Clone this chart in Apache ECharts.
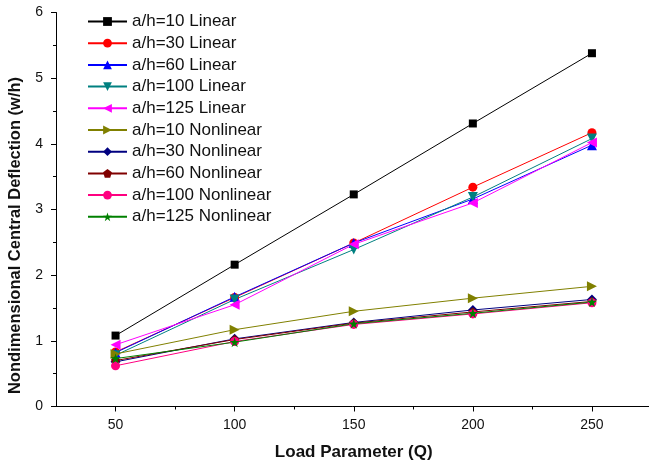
<!DOCTYPE html>
<html>
<head>
<meta charset="utf-8">
<script src="https://cdn.jsdelivr.net/npm/echarts@6/dist/echarts.min.js"></script>
<style>
  html, body { margin: 0; padding: 0; background: #fff; }
  #chart { width: 649px; height: 463px; }
</style>
</head>
<body>
<div id="chart"></div>
<script>
// load parameter Q
const loads = [50, 100, 150, 200, 250];

// w/h values
const lin10 = [1.08, 2.16, 3.23, 4.31, 5.38];
const lin30 = [0.83, 1.66, 2.49, 3.34, 4.17];
const lin60 = [0.82, 1.67, 2.49, 3.16, 3.98];
const lin100 = [0.78, 1.63, 2.39, 3.19, 4.08];
const lin125 = [0.94, 1.55, 2.47, 3.10, 4.02];
const non10 = [0.80, 1.17, 1.45, 1.65, 1.83];
const non30 = [0.68, 1.03, 1.28, 1.47, 1.63];
const non60 = [0.70, 1.02, 1.27, 1.44, 1.60];
const non100 = [0.62, 0.99, 1.25, 1.41, 1.58];
const non125 = [0.73, 0.98, 1.26, 1.42, 1.59];

const xMajor = [50, 100, 150, 200, 250];
const xMinor = [75, 125, 175, 225];

const FONT = '"Liberation Sans", Arial, sans-serif';

const shapes = {
  down: 'path://M0,0 L10,0 L5,10 Z',
  left: 'path://M10,0 L10,10 L0,5 Z',
  right: 'path://M0,0 L0,10 L10,5 Z',
  pentagon: 'path://M5,0 L10,3.8 L8.1,10 L1.9,10 L0,3.8 Z',
  star: 'path://M5,0 L6.2,3.6 L10,3.6 L6.9,5.9 L8.1,9.6 L5,7.3 L1.9,9.6 L3.1,5.9 L0,3.6 L3.8,3.6 Z'
};

const defs = [
  { name: 'a/h=10 Linear', data: lin10, color: '#000000', symbol: 'rect', size: 8 },
  { name: 'a/h=30 Linear', data: lin30, color: '#ff0000', symbol: 'circle', size: 9 },
  { name: 'a/h=60 Linear', data: lin60, color: '#0000ff', symbol: 'triangle', size: 10 },
  { name: 'a/h=100 Linear', data: lin100, color: '#008080', symbol: shapes.down, size: 10 },
  { name: 'a/h=125 Linear', data: lin125, color: '#ff00ff', symbol: shapes.left, size: 10 },
  { name: 'a/h=10 Nonlinear', data: non10, color: '#808000', symbol: shapes.right, size: 10 },
  { name: 'a/h=30 Nonlinear', data: non30, color: '#000080', symbol: 'diamond', size: 10 },
  { name: 'a/h=60 Nonlinear', data: non60, color: '#800000', symbol: shapes.pentagon, size: 9 },
  { name: 'a/h=100 Nonlinear', data: non100, color: '#ff0080', symbol: 'circle', size: 9 },
  { name: 'a/h=125 Nonlinear', data: non125, color: '#008000', symbol: shapes.star, size: 10 }
];

const chart = echarts.init(document.getElementById('chart'), null, { renderer: 'canvas' });

const option = {
  animation: false,
  textStyle: { fontFamily: FONT },
  grid: { left: 56, right: -2.5, top: 12.5, bottom: 56.5, outerBoundsMode: 'none', containLabel: false },
  legend: {
    orient: 'vertical',
    left: 82,
    top: 8,
    itemWidth: 39,
    itemHeight: 11,
    itemGap: 4.7,
    textStyle: { fontFamily: FONT, fontSize: 17, color: '#111', lineHeight: 17 },
    data: defs.map(d => d.name)
  },
  xAxis: [
    {
      type: 'value',
      min: 25,
      max: 275,
      interval: 25,
      name: 'Load Parameter (Q)',
      nameLocation: 'middle',
      nameGap: 37,
      nameTextStyle: { fontFamily: FONT, fontSize: 17, fontWeight: 'bold', color: '#111' },
      axisLine: { show: true, onZero: false, lineStyle: { color: '#000', width: 1 } },
      axisTick: { show: true, length: 5, customValues: xMajor, lineStyle: { color: '#000' } },
      axisLabel: { customValues: xMajor, margin: 12, fontSize: 14, color: '#111', fontFamily: FONT },
      splitLine: { show: false }
    },
    {
      type: 'value',
      min: 25,
      max: 275,
      interval: 25,
      position: 'bottom',
      axisLine: { show: false },
      axisTick: { show: true, length: 3, customValues: xMinor, lineStyle: { color: '#000' } },
      axisLabel: { show: false },
      splitLine: { show: false }
    }
  ],
  yAxis: {
    type: 'value',
    min: 0,
    max: 6,
    interval: 1,
    name: 'Nondimensional Central Deflection (w/h)',
    nameLocation: 'middle',
    nameGap: 27,
    nameTextStyle: { fontFamily: FONT, fontSize: 16.5, fontWeight: 'bold', color: '#111', padding: [0, 52, 0, 0] },
    axisLine: { show: true, lineStyle: { color: '#000', width: 1 } },
    axisTick: { show: true, length: 5, lineStyle: { color: '#000' } },
    minorTick: { show: true, splitNumber: 2, length: 3, lineStyle: { color: '#000' } },
    axisLabel: { margin: 13, fontSize: 14, color: '#111', fontFamily: FONT },
    splitLine: { show: false }
  },
  series: defs.map(d => ({
    name: d.name,
    type: 'line',
    xAxisIndex: 0,
    data: loads.map((q, i) => [q, d.data[i]]),
    symbol: d.symbol,
    symbolSize: d.size,
    showAllSymbol: true,
    lineStyle: { color: d.color, width: 1 },
    itemStyle: { color: d.color, borderWidth: 0 },
    emphasis: { disabled: true }
  }))
};

chart.setOption(option);
</script>
</body>
</html>
